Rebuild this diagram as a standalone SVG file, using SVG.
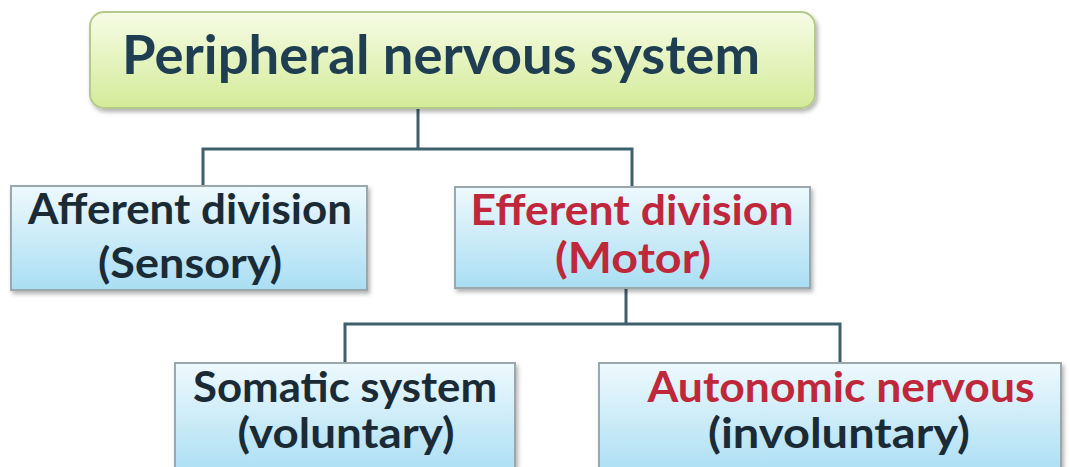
<svg xmlns="http://www.w3.org/2000/svg" width="1070" height="467" viewBox="0 0 1070 467">
<defs>
<linearGradient id="gGreen" x1="0" y1="0" x2="0" y2="1">
<stop offset="0" stop-color="#f7fce6"/>
<stop offset="1" stop-color="#d3eb98"/>
</linearGradient>
<linearGradient id="gBlue" x1="0" y1="0" x2="0" y2="1">
<stop offset="0" stop-color="#eef9fd"/>
<stop offset="1" stop-color="#a9def3"/>
</linearGradient>
<filter id="sh" x="-5%" y="-10%" width="110%" height="125%">
<feDropShadow dx="2" dy="3" stdDeviation="2" flood-color="#000" flood-opacity="0.3"/>
</filter>
</defs>
<style>
.box{fill:url(#gBlue);stroke:#9aa7ad;stroke-width:2;filter:url(#sh)}
.top{fill:url(#gGreen);stroke:#b5c98c;stroke-width:2;filter:url(#sh)}
text{font-family:Lato,"Open Sans","Liberation Sans",sans-serif;font-weight:bold;text-anchor:middle;font-size:42px}
.dk{fill:#1b2b36}
.rd{fill:#bf283b}
.conn{fill:none;stroke:#3e5f6c;stroke-width:3}
</style>
<rect width="1070" height="467" fill="#ffffff"/>
<g id="connectors">
<path class="conn" d="M418,108 V149 M203,186 V149 H632 V186"/>
<path class="conn" d="M626,288 V324 M345,363 V324 H840 V363"/>
</g>
<g id="pns">
<rect class="top" x="90" y="12" width="725" height="96" rx="14"/>
<text x="441" y="74" style="font-size:54px" fill="#1f3e52" textLength="638" lengthAdjust="spacingAndGlyphs">Peripheral nervous system</text>
</g>
<g id="afferent">
<rect class="box" x="11" y="186" width="356" height="104"/>
<text class="dk" x="190" y="224" textLength="324" lengthAdjust="spacingAndGlyphs">Afferent division</text>
<text class="dk" x="190" y="278" textLength="184" lengthAdjust="spacingAndGlyphs">(Sensory)</text>
</g>
<g id="efferent">
<rect class="box" x="455" y="187" width="355" height="101"/>
<text class="rd" x="632" y="225" textLength="323" lengthAdjust="spacingAndGlyphs">Efferent division</text>
<text class="rd" x="633" y="273" textLength="156" lengthAdjust="spacingAndGlyphs">(Motor)</text>
</g>
<g id="somatic">
<rect class="box" x="175" y="363" width="340" height="114"/>
<text class="dk" x="345" y="402" textLength="304" lengthAdjust="spacingAndGlyphs">Somatic system</text>
<text class="dk" x="346" y="448" textLength="217" lengthAdjust="spacingAndGlyphs">(voluntary)</text>
</g>
<g id="autonomic">
<rect class="box" x="599" y="363" width="462" height="114"/>
<text class="rd" x="841" y="402" textLength="387" lengthAdjust="spacingAndGlyphs">Autonomic nervous</text>
<text class="dk" x="839" y="448" textLength="262" lengthAdjust="spacingAndGlyphs">(involuntary)</text>
</g>
</svg>
